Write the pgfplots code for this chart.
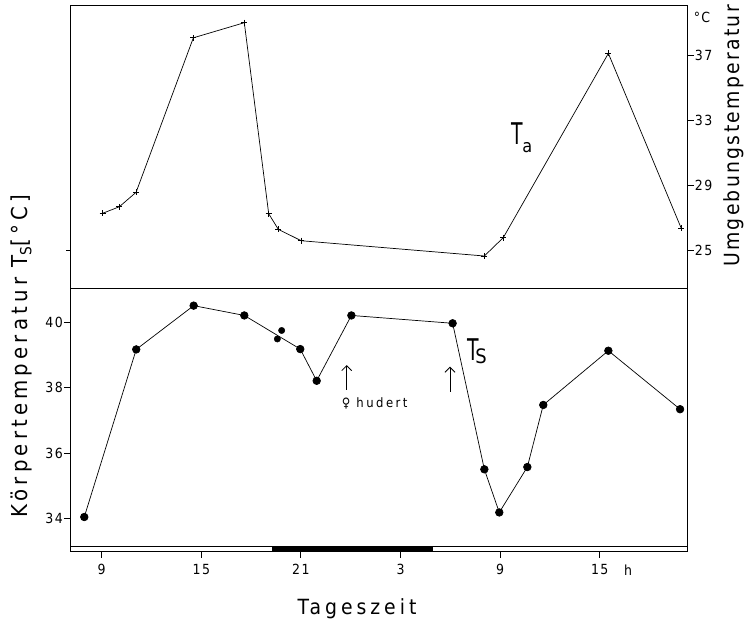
\documentclass[border=0pt]{standalone}
\usepackage{pgfplots}
\pgfplotsset{compat=1.18}
\usepackage{pgfplotstable}
\usepackage{fontspec}
\setmainfont{DejaVu Sans Condensed}
\newfontfamily\lab[LetterSpace=10]{DejaVu Sans Condensed}
\newfontfamily\labwide[LetterSpace=19]{DejaVu Sans Condensed}
\newfontfamily\labmid[LetterSpace=11]{DejaVu Sans Condensed}
\usetikzlibrary{arrows.meta}
\newcommand\tickfont{\lab\fontsize{14}{16}\selectfont}

\pgfplotstableread{
h Ta
9.06 27.26
10.06 27.66
11.07 28.55
14.52 38.06
17.59 38.99
19.06 27.23
19.64 26.27
21.02 25.57
32.05 24.63
33.19 25.76
39.52 37.10
43.91 26.34
}\tatab
\pgfplotstableread{
h Ts
7.95 34.04
11.08 39.17
14.54 40.51
17.59 40.21
20.96 39.18
21.95 38.21
24.04 40.21
30.14 39.97
32.05 35.50
32.95 34.18
34.64 35.57
35.60 37.47
39.52 39.13
43.84 37.34
}\tstab
\pgfplotstableread{
h Ts
19.58 39.49
19.84 39.75
}\tsextra

\begin{document}
\begin{tikzpicture}
\useasboundingbox (0bp,0bp) rectangle (744bp,-619bp);
\pgfplotsset{
  every axis/.append style={
    scale only axis, width=617.7bp,
    xmin=7.09, xmax=44.3,
    axis line style={line width=1bp},
    tick style={line width=0.9bp, black},
    major tick length=6bp,
    tick align=outside,
    ticklabel style={font=\tickfont},
    /pgf/number format/assume math mode=true,
    clip=false,
  }
}
% top panel: ambient temperature
\begin{axis}[
  at={(70bp,-288bp)}, anchor=south west,
  height=283bp,
  ymin=22.66, ymax=40.08,
  xtick=\empty,
  ytick={25,29,33,37},
  ytick pos=right,
  yticklabel pos=right,
  yticklabel style={anchor=west, inner sep=1bp},
]
\addplot[black, line width=0.7bp, mark=+, mark size=3bp,
  mark options={line width=0.8bp}] table[x=h, y=Ta] {\tatab};
\draw[line width=0.9bp] (axis cs:7.09,25) -- ++(-4bp,0bp);
\node[anchor=base west, inner sep=0] at (axis cs:33.7,31.5)
  {\fontsize{30}{30}\selectfont\scalebox{0.7}[1]{T}\kern-1bp\raisebox{-8bp}{\fontsize{18}{18}\selectfont a}};
\end{axis}

% bottom panel: body temperature
\begin{axis}[
  at={(70bp,-551.7bp)}, anchor=south west,
  height=263.7bp,
  ymin=32.978, ymax=41.05,
  xtick={9,15,21,27,33,39},
  xticklabels={9,15,21,3,9,15},
  xticklabel style={yshift=-3bp},
  xtick pos=bottom,
  ytick={34,36,38,40},
  ytick pos=left,
  yticklabel style={anchor=east, inner sep=1bp},
]
% light/dark bar
\draw[line width=0.9bp] (axis cs:7.09,33.131) -- (axis cs:44.3,33.131);
\fill[black] (axis cs:19.28,32.978) rectangle (axis cs:28.94,33.131);
\addplot[black, line width=0.7bp, mark=*, mark size=3.8bp] table[x=h, y=Ts] {\tstab};
\addplot[black, only marks, mark=*, mark size=3.2bp] table[x=h, y=Ts] {\tsextra};
\draw[-{Straight Barb[length=5bp,width=10bp]}, line width=0.8bp]
  (axis cs:23.76,37.93) -- (axis cs:23.76,38.69);
\draw[-{Straight Barb[length=5bp,width=10bp]}, line width=0.8bp]
  (axis cs:29.98,37.88) -- (axis cs:29.98,38.64);
\node[anchor=west, inner sep=0] at (axis cs:23.45,37.53)
  {\labwide\fontsize{13}{15}\selectfont ♀ hudert};
\node[anchor=base west, inner sep=0] at (axis cs:31.05,38.83)
  {\fontsize{30}{30}\selectfont\scalebox{0.7}[1]{T}\kern-4bp\raisebox{-3bp}{\fontsize{20}{20}\selectfont S}};
\end{axis}

% axis titles and units
\node[rotate=90, anchor=base] at (27bp,-356bp)
  {\labwide\fontsize{22}{24}\selectfont Körpertemperatur T\textsubscript{S}[°C]};
\node[rotate=90, anchor=base] at (739bp,-136bp)
  {\labmid\fontsize{21}{24}\selectfont Umgebungstemperatur};
\node at (702bp,-17bp) {\lab\fontsize{14}{16}\selectfont °C};
\node[anchor=base] at (357bp,-614bp) {\labwide\fontsize{21}{24}\selectfont Tageszeit};
\node[anchor=base] at (628bp,-575bp) {\tickfont h};
\end{tikzpicture}
\end{document}
